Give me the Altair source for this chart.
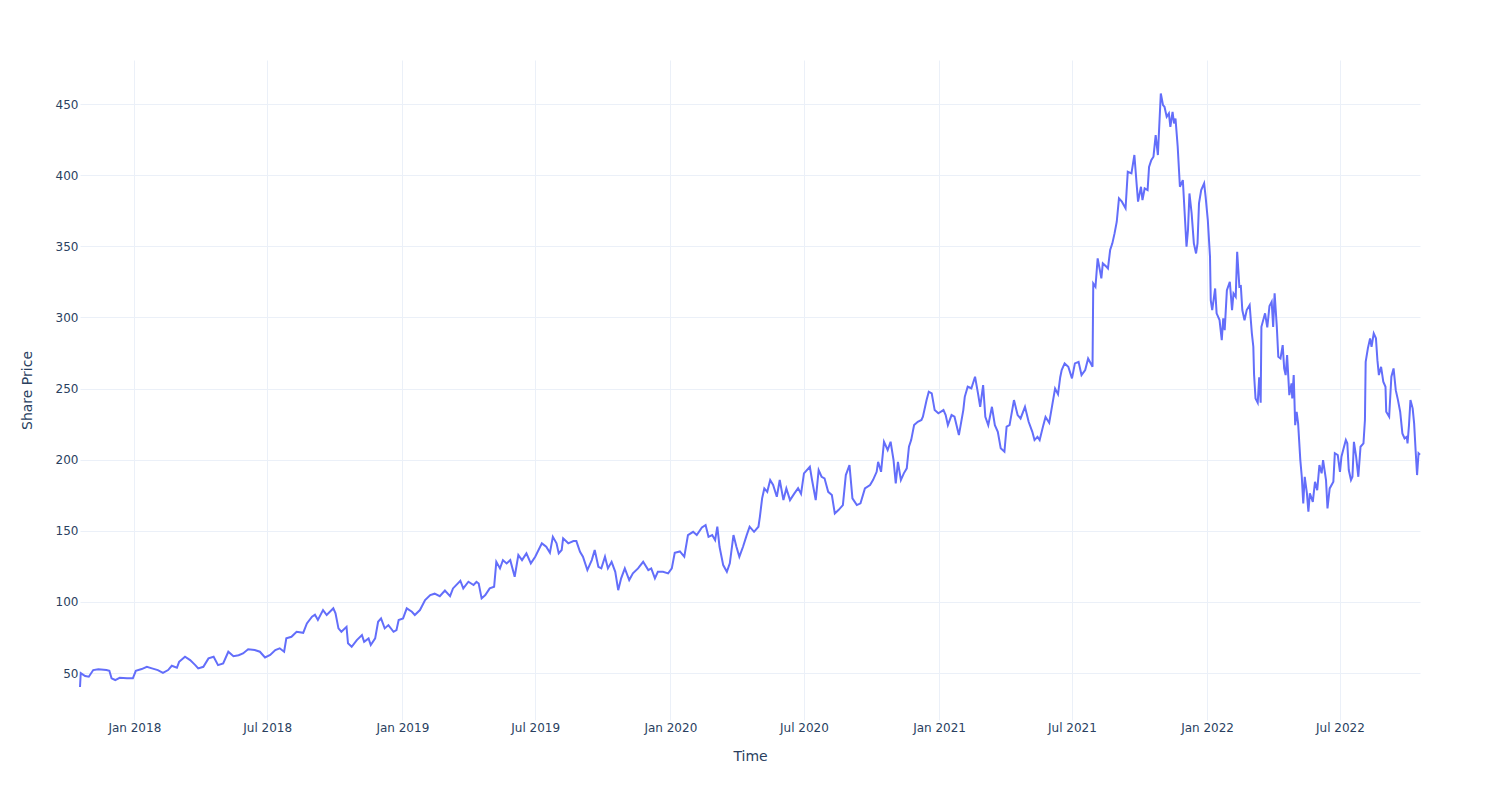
import altair as alt
import pandas as pd

dates_2017 = ["2017-10-19", "2017-10-20", "2017-10-26", "2017-10-31", "2017-11-06", "2017-11-13",
              "2017-11-24", "2017-11-28", "2017-12-01", "2017-12-06", "2017-12-12", "2017-12-22",
              "2017-12-30"]
price_2017 = [40.2, 50.0, 47.9, 47.4, 52.1, 52.6, 52.1, 51.6, 46.3, 45.1, 46.7, 46.3, 46.3]

dates_2018 = ["2018-01-03", "2018-01-11", "2018-01-18", "2018-01-25", "2018-02-02", "2018-02-09",
              "2018-02-16", "2018-02-21", "2018-02-28", "2018-03-03", "2018-03-11", "2018-03-18",
              "2018-03-25", "2018-03-29", "2018-04-05", "2018-04-12", "2018-04-19", "2018-04-25",
              "2018-05-02", "2018-05-09", "2018-05-16", "2018-05-23", "2018-05-29", "2018-06-05",
              "2018-06-14", "2018-06-21", "2018-06-28", "2018-07-05", "2018-07-12", "2018-07-18",
              "2018-07-24", "2018-07-27", "2018-08-03", "2018-08-10", "2018-08-19", "2018-08-24",
              "2018-08-31", "2018-09-04", "2018-09-08", "2018-09-15", "2018-09-20", "2018-09-29",
              "2018-10-02", "2018-10-06", "2018-10-10", "2018-10-17", "2018-10-19", "2018-10-24",
              "2018-10-31", "2018-11-07", "2018-11-10", "2018-11-16", "2018-11-19", "2018-11-25",
              "2018-11-29", "2018-12-03", "2018-12-08", "2018-12-13", "2018-12-20", "2018-12-24",
              "2018-12-27"]
price_2018 = [51.6, 52.8, 54.4, 53.3, 52.1, 50.2, 52.1, 55.1, 53.7, 57.9, 61.5, 59.1,
              55.6, 53.3, 54.4, 60.3, 61.5, 55.6, 56.8, 65.0, 61.9, 62.5, 63.8, 66.7,
              66.2, 65.0, 61.0, 62.7, 66.2, 67.4, 65.0, 74.4, 75.5, 79.0, 78.3, 84.9,
              89.6, 91.0, 87.3, 94.3, 90.8, 95.5, 92.0, 81.4, 79.0, 82.5, 70.9, 68.5,
              73.2, 76.7, 72.0, 74.4, 69.7, 74.4, 86.1, 88.4, 81.4, 83.7, 79.0, 80.2,
              87.3]

dates_2019 = ["2019-01-02", "2019-01-07", "2019-01-14", "2019-01-18", "2019-01-25", "2019-02-01",
              "2019-02-08", "2019-02-14", "2019-02-21", "2019-02-28", "2019-03-07", "2019-03-11",
              "2019-03-21", "2019-03-25", "2019-04-01", "2019-04-08", "2019-04-12", "2019-04-15",
              "2019-04-19", "2019-04-24", "2019-04-30", "2019-05-06", "2019-05-09", "2019-05-14",
              "2019-05-18", "2019-05-23", "2019-05-28", "2019-06-03", "2019-06-08", "2019-06-13",
              "2019-06-19", "2019-06-25", "2019-07-01", "2019-07-10", "2019-07-16", "2019-07-21",
              "2019-07-25", "2019-07-30", "2019-08-02", "2019-08-06", "2019-08-08", "2019-08-15",
              "2019-08-22", "2019-08-26", "2019-08-31", "2019-09-04", "2019-09-10", "2019-09-16",
              "2019-09-20", "2019-09-25", "2019-09-29", "2019-10-04", "2019-10-08", "2019-10-13",
              "2019-10-18", "2019-10-22", "2019-10-26", "2019-10-31", "2019-11-06", "2019-11-11",
              "2019-11-18", "2019-11-25", "2019-12-02", "2019-12-06", "2019-12-11", "2019-12-15",
              "2019-12-22", "2019-12-29"]
price_2019 = [88.4, 95.5, 93.1, 90.8, 94.3, 101.3, 104.8, 105.8, 104.0, 108.0, 104.1, 109.5,
              114.9, 109.5, 114.2, 111.9, 114.2, 113.0, 102.5, 104.8, 109.5, 110.7, 128.2, 123.6,
              129.4, 127.1, 129.4, 117.7, 133.0, 129.4, 134.1, 127.1, 131.8, 141.2, 138.8, 134.6,
              145.8, 141.2, 134.1, 136.5, 144.7, 141.2, 142.8, 142.8, 135.3, 131.8, 122.4, 129.4,
              136.5, 124.7, 123.6, 131.8, 123.6, 128.2, 121.2, 108.3, 116.6, 123.6, 115.4, 120.1,
              123.6, 128.2, 122.4, 123.6, 116.6, 121.2, 121.2, 120.1]

dates_2020 = ["2020-01-03", "2020-01-07", "2020-01-14", "2020-01-20", "2020-01-25", "2020-02-01",
              "2020-02-06", "2020-02-13", "2020-02-18", "2020-02-22", "2020-02-27", "2020-03-02",
              "2020-03-05", "2020-03-08", "2020-03-13", "2020-03-18", "2020-03-22", "2020-03-27",
              "2020-03-31", "2020-04-04", "2020-04-09", "2020-04-14", "2020-04-18", "2020-04-24",
              "2020-04-30", "2020-05-02", "2020-05-05", "2020-05-08", "2020-05-12", "2020-05-16",
              "2020-05-20", "2020-05-25", "2020-05-29", "2020-06-03", "2020-06-07", "2020-06-12",
              "2020-06-18", "2020-06-23", "2020-06-27", "2020-07-01", "2020-07-09", "2020-07-12",
              "2020-07-17", "2020-07-21", "2020-07-25", "2020-07-29", "2020-08-03", "2020-08-08",
              "2020-08-12", "2020-08-17", "2020-08-23", "2020-08-27", "2020-09-01", "2020-09-05",
              "2020-09-11", "2020-09-16", "2020-09-22", "2020-09-29", "2020-10-03", "2020-10-08",
              "2020-10-10", "2020-10-14", "2020-10-18", "2020-10-23", "2020-10-27", "2020-10-31",
              "2020-11-03", "2020-11-06", "2020-11-10", "2020-11-14", "2020-11-18", "2020-11-21",
              "2020-11-24", "2020-11-28", "2020-12-03", "2020-12-08", "2020-12-10", "2020-12-15",
              "2020-12-18", "2020-12-22", "2020-12-26", "2020-12-31"]
price_2020 = [123.6, 134.5, 135.5, 131.8, 147.0, 149.3, 147.0, 152.4, 154.0, 145.8, 147.0, 143.5,
              152.9, 138.8, 125.9, 121.2, 127.1, 147.0, 138.8, 131.8, 138.8, 147.0, 152.9, 149.3,
              152.9, 160.0, 172.8, 179.8, 177.4, 185.7, 182.2, 173.9, 185.7, 171.6, 179.8, 171.6,
              176.3, 180.0, 176.0, 190.4, 195.0, 185.7, 171.6, 192.7, 188.0, 186.9, 177.4, 175.1,
              162.2, 164.6, 168.1, 189.2, 196.2, 172.8, 168.1, 169.3, 179.8, 182.2, 185.7, 191.5,
              198.5, 191.5, 212.6, 206.8, 212.6, 199.7, 183.4, 198.5, 185.7, 190.4, 193.9, 209.1,
              213.8, 224.3, 226.7, 227.9, 230.2, 241.9, 247.8, 246.6, 234.9, 232.6]

dates_2021 = ["2021-01-07", "2021-01-10", "2021-01-13", "2021-01-18", "2021-01-22", "2021-01-28",
              "2021-02-03", "2021-02-05", "2021-02-09", "2021-02-14", "2021-02-19", "2021-02-23",
              "2021-02-26", "2021-03-02", "2021-03-05", "2021-03-09", "2021-03-14", "2021-03-18",
              "2021-03-22", "2021-03-26", "2021-03-31", "2021-04-03", "2021-04-07", "2021-04-13",
              "2021-04-18", "2021-04-22", "2021-04-28", "2021-05-03", "2021-05-08", "2021-05-11",
              "2021-05-15", "2021-05-18", "2021-05-23", "2021-05-26", "2021-05-31", "2021-06-04",
              "2021-06-08", "2021-06-12", "2021-06-15", "2021-06-17", "2021-06-21", "2021-06-26",
              "2021-07-01", "2021-07-05", "2021-07-10", "2021-07-14", "2021-07-19", "2021-07-23",
              "2021-07-29", "2021-07-30", "2021-08-02", "2021-08-05", "2021-08-08", "2021-08-10",
              "2021-08-12", "2021-08-17", "2021-08-19", "2021-08-22", "2021-08-25", "2021-08-28",
              "2021-08-31", "2021-09-03", "2021-09-07", "2021-09-12", "2021-09-15", "2021-09-20",
              "2021-09-24", "2021-09-27", "2021-09-29", "2021-10-03", "2021-10-05", "2021-10-08",
              "2021-10-12", "2021-10-14", "2021-10-17", "2021-10-20", "2021-10-23", "2021-10-26",
              "2021-10-30", "2021-11-02", "2021-11-04", "2021-11-07", "2021-11-10", "2021-11-12",
              "2021-11-15", "2021-11-17", "2021-11-19", "2021-11-22", "2021-11-25", "2021-11-29",
              "2021-12-02", "2021-12-04", "2021-12-06", "2021-12-08", "2021-12-11", "2021-12-14",
              "2021-12-17", "2021-12-19", "2021-12-21", "2021-12-24", "2021-12-28", "2021-12-30"]
price_2021 = [234.9, 231.4, 224.3, 231.4, 230.2, 217.3, 234.9, 244.2, 251.3, 250.2, 258.3, 246.6,
              237.2, 252.5, 230.2, 224.3, 237.2, 224.3, 219.6, 208.0, 205.6, 223.2, 224.3, 241.9,
              231.4, 229.0, 237.2, 226.7, 219.6, 213.8, 216.1, 213.8, 224.3, 230.0, 226.0, 238.0,
              250.0, 246.0, 258.0, 263.0, 267.7, 265.3, 257.2, 267.7, 268.8, 259.5, 263.0, 271.2,
              265.3, 323.9, 321.6, 341.5, 333.3, 327.5, 338.0, 335.6, 334.5, 347.4, 352.1, 359.1,
              367.3, 383.7, 381.4, 376.7, 402.4, 401.3, 414.2, 394.3, 381.4, 391.9, 382.5, 390.7,
              389.5, 405.9, 410.6, 413.0, 428.2, 414.2, 457.5, 449.3, 448.1, 441.1, 443.5, 434.0,
              444.6, 436.4, 439.9, 420.0, 391.9, 396.6, 368.5, 349.7, 361.4, 387.2, 373.1, 352.1,
              345.0, 352.1, 380.2, 389.5, 394.3, 384.9]

dates_2022 = ["2022-01-02", "2022-01-05", "2022-01-06", "2022-01-08", "2022-01-12", "2022-01-14",
              "2022-01-18", "2022-01-21", "2022-01-23", "2022-01-25", "2022-01-28", "2022-02-01",
              "2022-02-04", "2022-02-06", "2022-02-09", "2022-02-11", "2022-02-14", "2022-02-16",
              "2022-02-18", "2022-02-21", "2022-02-24", "2022-02-28", "2022-03-03", "2022-03-05",
              "2022-03-06", "2022-03-08", "2022-03-11", "2022-03-13", "2022-03-15", "2022-03-16",
              "2022-03-21", "2022-03-24", "2022-03-27", "2022-03-30", "2022-04-01", "2022-04-03",
              "2022-04-06", "2022-04-08", "2022-04-11", "2022-04-14", "2022-04-16", "2022-04-18",
              "2022-04-20", "2022-04-23", "2022-04-26", "2022-04-27", "2022-04-29", "2022-05-01",
              "2022-05-03", "2022-05-05", "2022-05-08", "2022-05-10", "2022-05-12", "2022-05-14",
              "2022-05-17", "2022-05-19", "2022-05-21", "2022-05-25", "2022-05-28", "2022-05-31",
              "2022-06-03", "2022-06-06", "2022-06-08", "2022-06-12", "2022-06-14", "2022-06-17",
              "2022-06-22", "2022-06-24", "2022-06-28", "2022-07-01", "2022-07-03", "2022-07-06",
              "2022-07-09", "2022-07-11", "2022-07-13", "2022-07-16", "2022-07-18", "2022-07-20",
              "2022-07-23", "2022-07-26", "2022-07-29", "2022-08-02", "2022-08-04", "2022-08-05",
              "2022-08-08", "2022-08-11", "2022-08-13", "2022-08-16", "2022-08-19", "2022-08-21",
              "2022-08-23", "2022-08-26", "2022-08-29", "2022-09-01", "2022-09-02", "2022-09-06",
              "2022-09-09", "2022-09-12", "2022-09-15", "2022-09-18", "2022-09-21", "2022-09-24",
              "2022-09-27", "2022-09-30", "2022-10-01", "2022-10-03", "2022-10-05", "2022-10-08",
              "2022-10-10", "2022-10-12", "2022-10-14", "2022-10-16", "2022-10-18"]
price_2022 = [368.5, 342.7, 312.2, 305.2, 320.4, 302.9, 298.2, 284.1, 299.4, 291.1, 319.2, 325.1,
              305.2, 316.9, 314.5, 346.2, 321.6, 322.0, 305.2, 298.0, 305.2, 308.7, 288.8, 279.4,
              260.0, 243.0, 240.0, 258.0, 240.0, 293.4, 302.9, 293.0, 308.0, 311.0, 293.4, 316.9,
              293.4, 272.4, 271.2, 280.6, 264.2, 259.5, 273.6, 245.4, 253.7, 243.1, 259.5, 224.3,
              233.7, 225.5, 199.7, 188.0, 169.3, 188.0, 176.3, 163.4, 176.3, 170.4, 184.5, 178.6,
              196.2, 190.4, 199.7, 185.7, 165.8, 179.8, 184.5, 204.5, 203.3, 191.5, 202.1, 208.0,
              213.8, 211.5, 192.7, 185.7, 188.0, 212.6, 202.1, 188.0, 209.1, 211.5, 227.9, 268.8,
              278.3, 285.3, 279.4, 288.8, 285.3, 270.0, 259.5, 265.3, 254.8, 251.3, 233.7, 230.2,
              258.3, 264.2, 248.9, 241.9, 233.7, 218.5, 215.0, 216.1, 211.5, 224.3, 241.9, 236.1,
              225.5, 206.8, 189.2, 204.5, 203.5]

x_tick_months = [(2018, 1), (2018, 7), (2019, 1), (2019, 7), (2020, 1), (2020, 7),
                 (2021, 1), (2021, 7), (2022, 1), (2022, 7)]
y_ticks = [50, 100, 150, 200, 250, 300, 350, 400, 450]
y_domain = [17, 481]

dates = dates_2017 + dates_2018 + dates_2019 + dates_2020 + dates_2021 + dates_2022
prices = price_2017 + price_2018 + price_2019 + price_2020 + price_2021 + price_2022
df = pd.DataFrame({"Time": dates, "Share Price": prices})

x_ticks = [alt.DateTime(year=y, month=m, date=1, utc=True) for y, m in x_tick_months]

FONT = "DejaVu Sans"
TXT = "#2a3f5f"
GRID = "#EBF0F8"

chart = alt.Chart(df).mark_line(color="#636efa", strokeWidth=2).encode(
    x=alt.X(
        "Time:T",
        scale=alt.Scale(type="utc", nice=False),
        axis=alt.Axis(
            values=x_ticks, format="%b %Y", title="Time",
            grid=True, gridColor=GRID, gridWidth=1, domain=False, ticks=False, tickSize=0,
            labelColor=TXT, labelFont=FONT, labelFontSize=12, labelPadding=2,
            labelFlush=False, labelOverlap=False,
            titleColor=TXT, titleFont=FONT, titleFontSize=14, titleFontWeight="normal",
            titleX=670, titleY=36, titleBaseline="middle", titleAlign="center",
        ),
    ),
    y=alt.Y(
        "Share Price:Q",
        scale=alt.Scale(domain=y_domain, nice=False, zero=False),
        axis=alt.Axis(
            values=y_ticks, title="Share Price",
            grid=True, gridColor=GRID, gridWidth=1, domain=False, ticks=False, tickSize=0,
            labelColor=TXT, labelFont=FONT, labelFontSize=12, labelPadding=2,
            labelFlush=False, labelOverlap=False,
            titleColor=TXT, titleFont=FONT, titleFontSize=14, titleFontWeight="normal",
            titleX=-53, titleY=330, titleAngle=270, titleBaseline="middle", titleAlign="center",
        ),
    ),
).properties(
    width=1340,
    height=660,
    autosize=alt.AutoSizeParams(type="none"),
    padding={"left": 72, "top": 52, "right": 72, "bottom": 72},
    background="white",
).configure_view(stroke=None)

chart.save("out.html", embed_options={"renderer": "svg", "actions": False})
